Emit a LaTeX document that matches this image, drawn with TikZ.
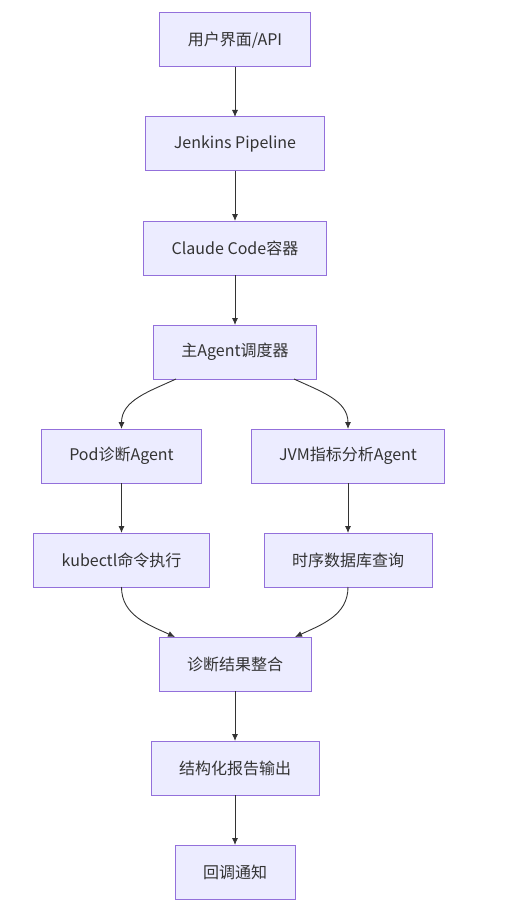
\documentclass[tikz,border=0pt]{standalone}
\usepackage{fontspec}
\setmainfont{Noto Sans CJK SC}
\usepackage{tikz}
\usetikzlibrary{positioning}
\usetikzlibrary{arrows.meta}

\definecolor{boxfill}{HTML}{ECECFF}
\definecolor{boxline}{HTML}{9370DB}
\definecolor{edgeline}{HTML}{333333}

\tikzset{
    stage/.style={draw=boxline, fill=boxfill, line width=1pt, text=edgeline,
        minimum height=54pt, inner xsep=28pt, outer sep=0pt,
        font=\fontsize{16}{19}\selectfont},
    flow/.style={-{Latex[length=7pt,width=6pt]}, draw=edgeline, line width=0.9pt},
    node distance=50pt
}

\begin{document}
\begin{tikzpicture}[x=1pt, y=1pt]
    \useasboundingbox (0,0) rectangle (510,-912);
    \node[stage] (api) at (235,-40) {用户界面/API};
    \node[stage, below=of api] (jenkins) {Jenkins Pipeline};
    \node[stage, below=of jenkins] (claude) {Claude Code容器};
    \node[stage, below=of claude] (main) {主Agent调度器};
    \node[stage] (pod) at (121.5,-456) {Pod诊断Agent};
    \node[stage] (jvm) at (348,-456) {JVM指标分析Agent};
    \node[stage, below=of pod] (kubectl) {kubectl命令执行};
    \node[stage, below=of jvm] (tsdb) {时序数据库查询};
    \node[stage] (merge) at (235,-664) {诊断结果整合};
    \node[stage, below=of merge] (report) {结构化报告输出};
    \node[stage, below=of report] (notify) {回调通知};

    \draw[flow] (api) -- (jenkins);
    \draw[flow] (jenkins) -- (claude);
    \draw[flow] (claude) -- (main);
    % split to the two agents
    \draw[flow] ([xshift=-59pt]main.south) to[out=-155, in=90] (pod.north);
    \draw[flow] ([xshift=59pt]main.south) to[out=-25, in=90] (jvm.north);
    \draw[flow] (pod) -- (kubectl);
    \draw[flow] (jvm) -- (tsdb);
    % merge results
    \draw[flow] (kubectl.south) to[out=-90, in=155] ([xshift=-60pt]merge.north);
    \draw[flow] (tsdb.south) to[out=-90, in=25] ([xshift=60pt]merge.north);
    \draw[flow] (merge) -- (report);
    \draw[flow] (report) -- (notify);
\end{tikzpicture}
\end{document}
